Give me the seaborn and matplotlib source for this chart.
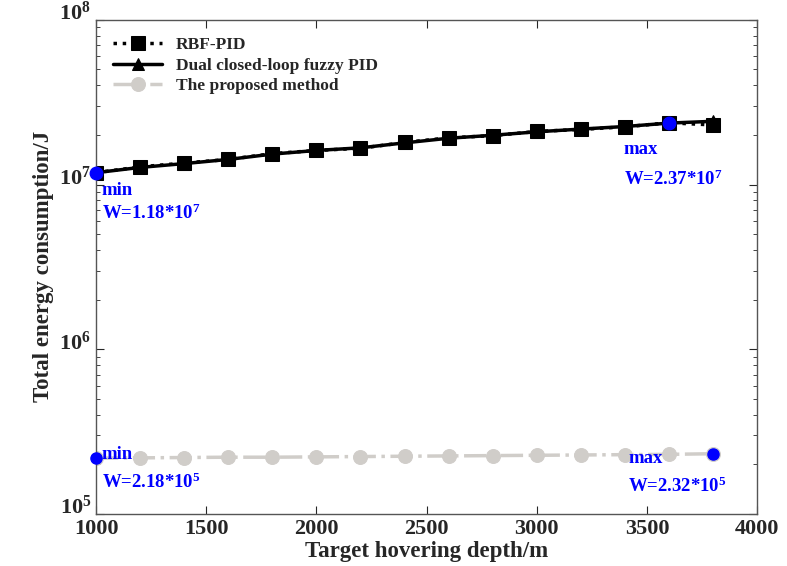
import numpy as np
import pandas as pd
import matplotlib
matplotlib.use("Agg")
import matplotlib.pyplot as plt
import matplotlib.transforms as mtransforms
import seaborn as sns
from matplotlib.ticker import LogLocator, NullFormatter

depth = [1000, 1200, 1400, 1600, 1800, 2000, 2200, 2400, 2600, 2800, 3000, 3200, 3400, 3600, 3800]
rbf_pid = [1.18e7, 1.28e7, 1.35e7, 1.42e7, 1.54e7, 1.61e7, 1.66e7, 1.80e7, 1.92e7, 1.98e7, 2.10e7, 2.16e7, 2.24e7, 2.37e7, 2.30e7]
dual_fuzzy = [1.18e7, 1.27e7, 1.34e7, 1.42e7, 1.53e7, 1.61e7, 1.67e7, 1.79e7, 1.91e7, 1.99e7, 2.09e7, 2.17e7, 2.25e7, 2.36e7, 2.42e7]
proposed = [2.18e5, 2.19e5, 2.20e5, 2.21e5, 2.21e5, 2.22e5, 2.23e5, 2.24e5, 2.25e5, 2.26e5, 2.27e5, 2.28e5, 2.29e5, 2.30e5, 2.32e5]
labels = ["RBF-PID", "Dual closed-loop fuzzy PID", "The proposed method"]

sns.set_style("ticks")
plt.rcParams["font.family"] = ["Liberation Serif", "DejaVu Serif"]
plt.rcParams["font.weight"] = "bold"
plt.rcParams["mathtext.fontset"] = "custom"
plt.rcParams["mathtext.rm"] = "Liberation Serif:bold"
plt.rcParams["mathtext.bf"] = "Liberation Serif:bold"
plt.rcParams["mathtext.it"] = "Liberation Serif:bold"

fig = plt.figure(figsize=(7.87, 5.66), dpi=100)
ax = fig.add_axes([0.122, 0.092, 0.84, 0.873])

df = pd.DataFrame({"depth": depth, "rbf": rbf_pid, "dual": dual_fuzzy, "prop": proposed})

gray = "#d0cdc9"
sns.lineplot(data=df, x="depth", y="rbf", ax=ax, color="black", linestyle=":", lw=2.5,
             marker="s", markersize=10, markerfacecolor="black", markeredgecolor="black",
             label=labels[0])
sns.lineplot(data=df, x="depth", y="dual", ax=ax, color="black", linestyle="-", lw=2.5,
             marker="^", markersize=9, markerfacecolor="black", markeredgecolor="black",
             label=labels[1])
sns.lineplot(data=df, x="depth", y="prop", ax=ax, color=gray, linestyle="-.", lw=2.5,
             marker="o", markersize=10, markerfacecolor=gray, markeredgecolor=gray,
             label=labels[2])

# highlighted min/max points
ax.plot([depth[0], depth[13]], [dual_fuzzy[0], rbf_pid[13]], "o", color="blue", ms=9, zorder=5, clip_on=False)
ax.plot([depth[0], depth[-1]], [proposed[0], proposed[-1]], "o", color="blue", ms=8, zorder=5, clip_on=False)

ax.set_yscale("log")
ax.set_xlim(1000, 4000)
ax.set_ylim(1e5, 1e8)
ax.set_xticks([1000, 1500, 2000, 2500, 3000, 3500, 4000])
ax.yaxis.set_major_locator(LogLocator(base=10, numticks=10))
ax.yaxis.set_minor_locator(LogLocator(base=10, subs=np.arange(2, 10), numticks=20))
ax.yaxis.set_minor_formatter(NullFormatter())
ax.tick_params(axis="both", which="both", direction="in", top=True, right=True, labelsize=16)
ax.tick_params(axis="both", which="major", length=6)
ax.tick_params(axis="x", which="major", pad=4)
ax.tick_params(axis="y", which="minor", length=3)
for lab in ax.get_xticklabels() + ax.get_yticklabels():
    lab.set_fontweight("bold")

# raise y tick labels slightly (as in the reference)
offset = mtransforms.ScaledTranslation(0, 9 / 100.0, fig.dpi_scale_trans)
for lab in ax.get_yticklabels():
    lab.set_transform(lab.get_transform() + offset)

ax.set_xlabel("Target hovering depth/m", fontsize=16.5, fontweight="bold", labelpad=1)
ax.set_ylabel("Total energy consumption/J", fontsize=16.5, fontweight="bold")
for s in ax.spines.values():
    s.set_color("#555555")
    s.set_linewidth(1.0)

kw = dict(color="blue", fontsize=13.5, fontweight="bold", ha="left", va="center")
ax.text(1025, 9.2e6, "min", **kw)
ax.text(1025, 6.7e6, r"W=1.18*10$^{7}$", **kw)
ax.text(3395, 1.63e7, "max", **kw)
ax.text(3395, 1.07e7, r"W=2.37*10$^{7}$", **kw)
ax.text(1025, 2.29e5, "min", **kw)
ax.text(1025, 1.55e5, r"W=2.18*10$^{5}$", **kw)
ax.text(3415, 2.16e5, "max", **kw)
ax.text(3415, 1.48e5, r"W=2.32*10$^{5}$", **kw)

leg = ax.legend(loc="upper left", frameon=False, prop={"weight": "bold", "size": 12.5},
                handlelength=2.8, borderaxespad=0.6, labelspacing=0.25)

fig.savefig("out.png", dpi=100)
